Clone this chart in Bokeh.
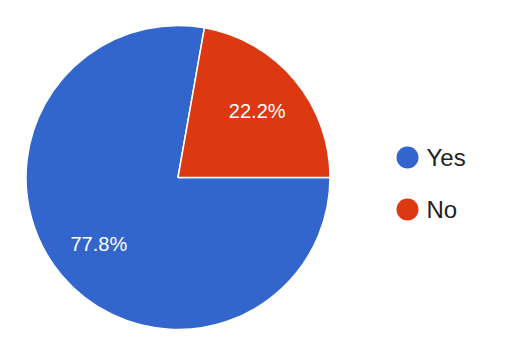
import math
from bokeh.plotting import figure
from bokeh.models import Range1d, ColumnDataSource
from bokeh.core.properties import value
from bokeh.embed import file_html
from bokeh.resources import INLINE

# Data
categories = ["Yes", "No"]
counts = [7, 2]
colors = ["#3366CC", "#DC3912"]

W, H = 512, 352
cx, cy, R = 177.5, 352 - 177, 152
start_offset = math.radians(80.0)

total = sum(counts)
fracs = [c / total for c in counts]
starts, ends, mids = [], [], []
a = start_offset
for f in fracs:
    s = a
    e = a + f * 2 * math.pi
    starts.append(s)
    ends.append(e)
    mids.append((s + e) / 2)
    a = e

labels = [f"{f*100:.1f}%" for f in fracs]
lr = 0.68 * R
lx = [cx + lr * math.cos(m) for m in mids]
ly = [cy + lr * math.sin(m) for m in mids]

src = ColumnDataSource(dict(cat=categories, start=starts, end=ends, color=colors,
                            lx=lx, ly=ly, label=labels))

p = figure(width=W, height=H, output_backend="svg", toolbar_location=None,
           x_range=Range1d(0, W), y_range=Range1d(0, H), min_border=0)
p.axis.visible = False
p.grid.visible = False
p.outline_line_color = None
p.background_fill_color = "white"
p.border_fill_color = "white"

p.wedge(x=cx, y=cy, radius=R, start_angle="start", end_angle="end",
        fill_color="color", line_color="white", line_width=1.5, source=src)

p.text(x="lx", y="ly", text="label", source=src, text_color="white",
       text_font=value("Liberation Sans"), text_font_size="20px",
       text_align="center", text_baseline="middle")

# Legend
leg_x = 407
leg_y = [352 - 157, 352 - 209]
lsrc = ColumnDataSource(dict(x=[leg_x] * 2, y=leg_y, color=colors, cat=categories,
                             tx=[leg_x + 19] * 2))
p.scatter(x="x", y="y", size=22, marker="circle", fill_color="color",
          line_color=None, source=lsrc)
p.text(x="tx", y="y", text="cat", source=lsrc, text_color="#222222",
       text_font=value("Liberation Sans"), text_font_size="24px",
       text_align="left", text_baseline="middle")

open("out.html", "w").write(file_html(p, INLINE))
